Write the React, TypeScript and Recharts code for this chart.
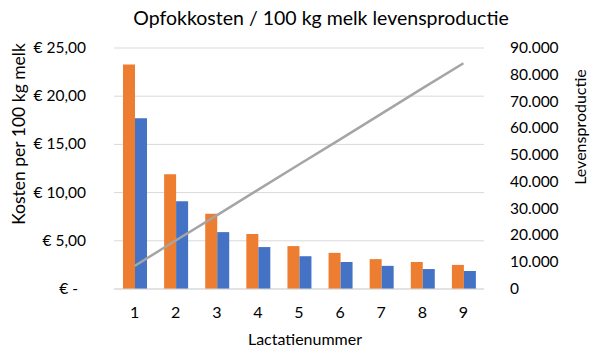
import React from 'react';
import { ComposedChart, Bar, Line, XAxis, YAxis, CartesianGrid } from 'recharts';

const lactaties = ['1', '2', '3', '4', '5', '6', '7', '8', '9'];
const kostenOranje = [23.3, 11.9, 7.8, 5.7, 4.45, 3.75, 3.1, 2.8, 2.5];
const kostenBlauw = [17.7, 9.1, 5.9, 4.35, 3.4, 2.8, 2.4, 2.07, 1.87];
const levensproductie = [8600, 18100, 27500, 37000, 46500, 55900, 65400, 74900, 84300];

const leftTicks = [0, 5, 10, 15, 20, 25];
const rightTicks = [0, 10000, 20000, 30000, 40000, 50000, 60000, 70000, 80000, 90000];

const data = lactaties.map((name, i) => ({
  name,
  oranje: kostenOranje[i],
  blauw: kostenBlauw[i],
  productie: levensproductie[i],
}));

const FONT = 'Lato, sans-serif';
const TXT = '#000000';

const euro = (v: number) => (v === 0 ? '€ -' : `€ ${v.toFixed(2).replace('.', ',')}`);
const dots = (v: number) => String(v).replace(/\B(?=(\d{3})+(?!\d))/g, '.');

const LeftTick = (props: any) => {
  const { x, y, payload } = props;
  const isZero = payload.value === 0;
  return (
    <text x={isZero ? x - 28 : x - 20} y={y} dy={5} textAnchor="end" fill={TXT} fontSize={15.5} fontFamily={FONT}>
      {euro(payload.value)}
    </text>
  );
};

const RightTick = (props: any) => {
  const { x, y, payload } = props;
  return (
    <text x={x + 18} y={y} dy={5} textAnchor="start" fill={TXT} fontSize={15.5} fontFamily={FONT}>
      {dots(payload.value)}
    </text>
  );
};

export default function App() {
  return (
    <div style={{ position: 'absolute', left: 0, top: 0, width: 594, height: 359, background: '#fff', fontFamily: FONT }}>
      <div style={{ position: 'absolute', left: 0, width: 594, top: 6, textAlign: 'center', paddingLeft: 48, boxSizing: 'border-box', fontSize: 19.5, color: '#000' }}>
        Opfokkosten / 100 kg melk levensproductie
      </div>
      <div style={{ position: 'absolute', left: 18, top: 134, transform: 'translate(-50%, -50%) rotate(-90deg)', whiteSpace: 'nowrap', fontSize: 17.5, color: '#000' }}>
        Kosten per 100 kg melk
      </div>
      <div style={{ position: 'absolute', left: 579, top: 127, transform: 'translate(-50%, -50%) rotate(-90deg)', whiteSpace: 'nowrap', fontSize: 16, color: '#000' }}>
        Levensproductie
      </div>
      <div style={{ position: 'absolute', left: 0, width: 594, top: 329, textAlign: 'center', paddingLeft: 16, boxSizing: 'border-box', fontSize: 16, color: '#000' }}>
        Lactatienummer
      </div>
      <ComposedChart
        width={594}
        height={359}
        data={data}
        margin={{ top: 48, right: 0, bottom: 0, left: 0 }}
        barGap={0}
        barSize={12}
      >
        <CartesianGrid yAxisId="left" vertical={false} stroke="#D9D9D9" />
        <XAxis
          dataKey="name"
          height={70}
          axisLine={{ stroke: '#D9D9D9' }}
          tickLine={false}
          tick={{ fill: TXT, fontSize: 16, fontFamily: FONT }}
          tickMargin={12}
        />
        <YAxis
          yAxisId="left"
          width={114}
          domain={[0, 25]}
          ticks={leftTicks}
          axisLine={false}
          tickLine={false}
          tick={<LeftTick />}
        />
        <YAxis
          yAxisId="right"
          orientation="right"
          width={110}
          domain={[0, 90000]}
          ticks={rightTicks}
          axisLine={false}
          tickLine={false}
          tick={<RightTick />}
        />
        <Bar yAxisId="left" dataKey="oranje" fill="#ED7D31" isAnimationActive={false} />
        <Bar yAxisId="left" dataKey="blauw" fill="#4472C4" isAnimationActive={false} />
        <Line
          yAxisId="right"
          dataKey="productie"
          type="linear"
          stroke="#A5A5A5"
          strokeWidth={2.5}
          dot={false}
          isAnimationActive={false}
        />
      </ComposedChart>
    </div>
  );
}
